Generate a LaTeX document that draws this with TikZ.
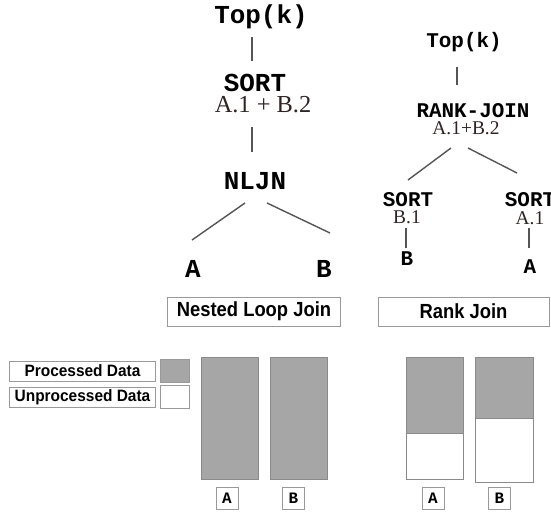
\documentclass[tikz,border=0pt]{standalone}
\usepackage{fontspec}
\setmainfont{Liberation Serif}
\newfontfamily\monof{Liberation Mono}
\newfontfamily\sansf{Liberation Sans}
\newfontfamily\sansn{Liberation Sans}[FakeStretch=0.9]
\newfontfamily\sansl{Liberation Sans}[FakeStretch=0.94]
\usetikzlibrary{calc}
\definecolor{conn}{HTML}{555555}
\definecolor{procgray}{HTML}{A6A6A6}
\definecolor{boxgray}{HTML}{999999}
\definecolor{bargray}{HTML}{8A8A8A}
\definecolor{sertext}{HTML}{2E2424}
\tikzset{
  monobig/.style={font=\monof\bfseries\fontsize{26}{26}\selectfont, inner sep=0pt, anchor=base},
  monomid/.style={font=\monof\bfseries\fontsize{21}{21}\selectfont, inner sep=0pt, anchor=base},
  serbig/.style={font=\fontsize{24.5}{24.5}\selectfont, text=sertext, inner sep=0pt, anchor=base},
  sermid/.style={font=\fontsize{19.5}{19.5}\selectfont, text=sertext, inner sep=0pt, anchor=base},
  edge/.style={draw=conn, line width=1.4bp},
  titlebox/.style={draw=boxgray, line width=1bp, inner sep=0pt, minimum height=29bp,
     font=\sansn\bfseries\fontsize{20.5}{20.5}\selectfont},
  legbox/.style={draw=boxgray, line width=1bp, inner sep=0pt, minimum width=145bp, minimum height=20bp,
     font=\sansl\bfseries\fontsize{16.5}{16.5}\selectfont},
  swatch/.style={draw=boxgray, line width=1bp, inner sep=0pt, minimum width=29bp, minimum height=23bp},
  lblbox/.style={draw=boxgray, line width=1bp, inner sep=0pt, minimum width=22bp, minimum height=22bp,
     font=\monof\bfseries\fontsize{16}{16}\selectfont},
  bar/.style={draw=bargray, line width=1bp},
}
\begin{document}
\begin{tikzpicture}[x=1bp,y=-1bp]
\path[use as bounding box] (0,0) rectangle (551,517);
\clip (0,0) rectangle (551,517);
\fill[white] (0,0) rectangle (551,517);

% ---- left tree (Nested Loop Join) ----
\node[monobig] (topL) at (261,24) {Top(k)};
\node[monobig] (sortL) at (255,92) {SORT};
\node[serbig] (sortLx) at (263,113) {A.1 + B.2};
\node[monobig] (nljn) at (255,190) {NLJN};
\node[monobig] (leafA) at (193,277) {A};
\node[monobig] (leafB) at (324,277) {B};

\draw[edge] ($(topL.base)+(-9,13)$) -- ($(sortL.base)+(-3,-31)$);
\draw[edge] ($(sortLx.base)+(-11,14)$) -- ($(nljn.base)+(-3,-38)$);
\draw[edge] ($(nljn.base)+(-10,13)$) -- ($(leafA.base)+(-1,-37)$);
\draw[edge] ($(nljn.base)+(12,13)$) -- ($(leafB.base)+(6,-44)$);

% ---- right tree (Rank Join) ----
\node[monomid] (topR) at (464,48) {Top(k)};
\node[monomid] (rj) at (473,118) {RANK-JOIN};
\node[sermid] (rjx) at (466,135) {A.1+B.2};
\node[monomid] (sortB) at (408,207) {SORT};
\node[sermid] (sortBx) at (407,223) {B.1};
\node[monomid] (sortA) at (530,207) {SORT};
\node[sermid] (sortAx) at (530,224) {A.1};
\node[monomid] (leafRB) at (407,265) {B};
\node[monomid] (leafRA) at (530,273) {A};

\draw[edge] ($(topR.base)+(-7,19)$) -- ($(rj.base)+(-16,-33)$);
\draw[edge] ($(rjx.base)+(-15,13)$) -- ($(sortB.base)+(0,-27)$);
\draw[edge] ($(rjx.base)+(2,13)$) -- ($(sortA.base)+(-13,-34)$);
\draw[edge] ($(sortBx.base)+(-1,5)$) -- ($(leafRB.base)+(-1,-17)$);
\draw[edge] ($(sortAx.base)+(-1,4)$) -- ($(leafRA.base)+(-1,-25)$);

% ---- titles ----
\node[titlebox, minimum width=173bp] (nljTitle) at (254,311.5) {Nested Loop Join};
\node[titlebox, minimum width=171bp] (rjTitle) at (463.5,311.5) {Rank Join};

% ---- legend ----
\node[legbox] (procLbl) at (82.5,371) {Processed Data};
\node[swatch, fill=procgray] (procSw) at (174.5,370.5) {};
\node[legbox] (unprocLbl) at (82.5,397) {Unprocessed Data};
\node[swatch, fill=white] (unprocSw) at (174.5,396.5) {};

% ---- bars: nested loop join ----
\draw[bar, fill=procgray] (201.5,357) rectangle (258.5,479);
\draw[bar, fill=procgray] (270,357) rectangle (327.5,479);
% ---- bars: rank join ----
\draw[bar, fill=white] (406.5,433) rectangle (463.5,479);
\draw[bar, fill=procgray] (406.5,357) rectangle (463.5,433);
\draw[bar, fill=white] (475.5,418) rectangle (533,482);
\draw[bar, fill=procgray] (475.5,357) rectangle (533,418);

% ---- bar labels ----
\node[lblbox] (lblNA) at (227,498) {A};
\node[lblbox] (lblNB) at (293.5,498) {B};
\node[lblbox] (lblRA) at (433,498) {A};
\node[lblbox] (lblRB) at (499.5,498) {B};
\end{tikzpicture}
\end{document}
